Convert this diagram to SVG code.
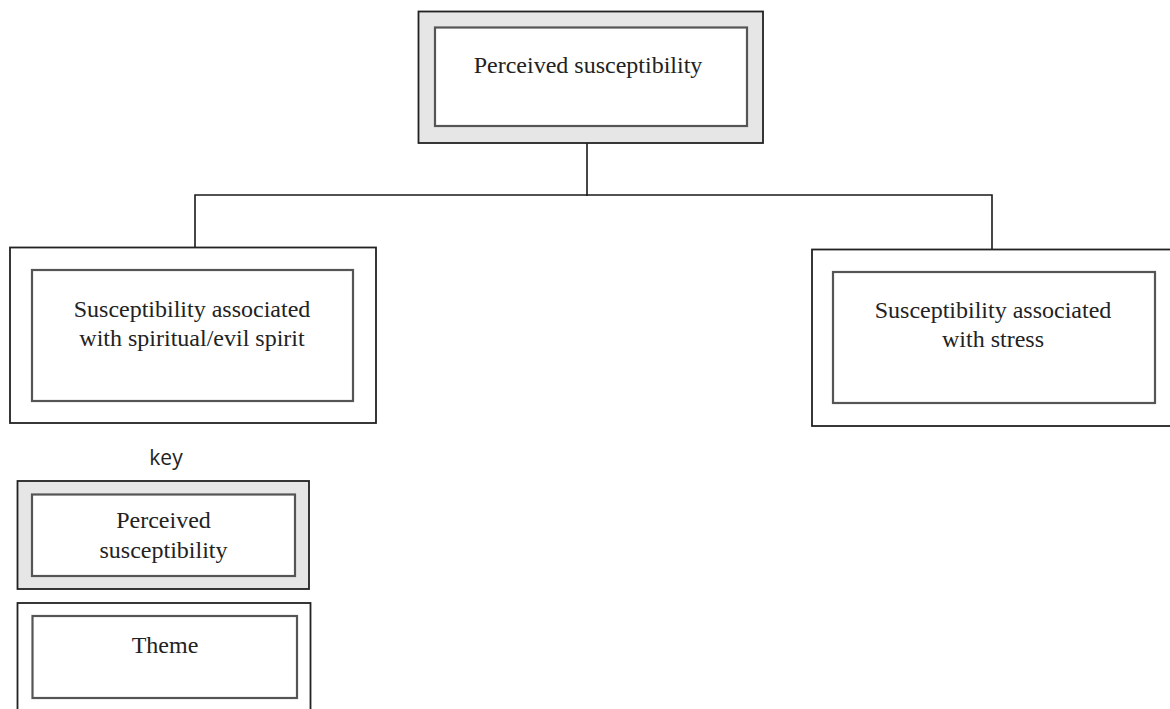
<svg xmlns="http://www.w3.org/2000/svg" width="1170" height="709" viewBox="0 0 1170 709">
  <style>
    .outer { fill: #ffffff; stroke: #222222; stroke-width: 1.8; }
    .outer.shade { fill: #e6e6e6; }
    .inner { fill: #ffffff; stroke: #555555; stroke-width: 2.2; }
    .label { font-family: "Liberation Serif", "Times New Roman", serif; font-size: 24px; fill: #222222; text-anchor: middle; }
    .key { font-family: "Open Sans", "Liberation Sans", sans-serif; font-size: 21px; fill: #222222; text-anchor: middle; }
    .link { fill: none; stroke: #1a1a1a; stroke-width: 1.6; }
  </style>
  <rect width="1170" height="709" fill="#ffffff"/>

  <!-- tree connectors -->
  <g id="connectors">
    <path class="link" d="M587 143 V196"/>
    <path class="link" d="M195 248 V195 H992 V250"/>
  </g>

  <!-- root category -->
  <g id="node-perceived-susceptibility">
    <rect class="outer shade" x="418.5" y="11.5" width="344.5" height="131.5"/>
    <rect class="inner" x="435" y="27.5" width="312" height="98.5"/>
    <text class="label" x="588" y="73">Perceived susceptibility</text>
  </g>

  <!-- themes -->
  <g id="node-spiritual">
    <rect class="outer" x="10" y="247.5" width="366" height="175.5"/>
    <rect class="inner" x="32" y="270" width="321" height="131"/>
    <text class="label" x="192" y="317">Susceptibility associated</text>
    <text class="label" x="192" y="346">with spiritual/evil spirit</text>
  </g>

  <g id="node-stress">
    <rect class="outer" x="812" y="249.5" width="370" height="176.5"/>
    <rect class="inner" x="833" y="272" width="322" height="131"/>
    <text class="label" x="993" y="318">Susceptibility associated</text>
    <text class="label" x="993" y="347">with stress</text>
  </g>

  <!-- legend -->
  <g id="legend">
    <text class="key" x="166" y="465">key</text>
    <g id="legend-category">
      <rect class="outer shade" x="17.5" y="481" width="291.5" height="108"/>
      <rect class="inner" x="32" y="494.5" width="263" height="81.5"/>
      <text class="label" x="163.5" y="528">Perceived</text>
      <text class="label" x="163.5" y="558">susceptibility</text>
    </g>
    <g id="legend-theme">
      <rect class="outer" x="17.5" y="603" width="293" height="115"/>
      <rect class="inner" x="32.5" y="616" width="264.5" height="82"/>
      <text class="label" x="165" y="653">Theme</text>
    </g>
  </g>
</svg>
